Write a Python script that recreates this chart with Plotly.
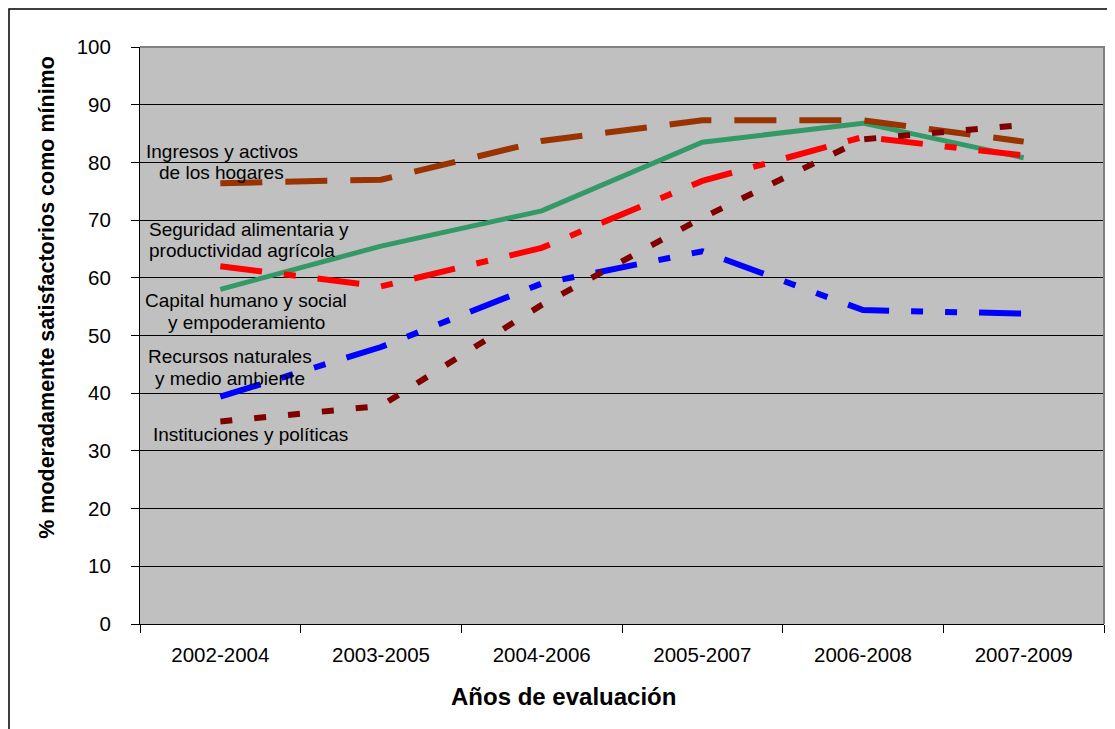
import plotly.graph_objects as go

# evaluation periods (x categories)
periods = ["2002-2004", "2003-2005", "2004-2006", "2005-2007", "2006-2008", "2007-2009"]

# % rated moderately satisfactory or better, per impact domain
ingresos = [76.4, 77.0, 83.7, 87.3, 87.3, 83.6]
seguridad = [62.0, 58.5, 65.2, 76.8, 84.4, 81.2]
capital = [58.0, 65.5, 71.6, 83.5, 86.8, 80.8]
recursos = [39.4, 48.0, 59.0, 64.6, 54.4, 53.8]
instituciones = [35.1, 37.8, 55.3, 70.4, 84.0, 86.5]

FONT = "Liberation Sans, Arial, sans-serif"

fig = go.Figure()

# drawing order matters: the later series sit on top
series = [
    (capital, "#339966", "solid", 5),
    (ingresos, "#993300", "42px,23px", 6),
    (recursos, "#0000FF", "42px,22px,12px,22px,12px,22px", 6),
    (seguridad, "#FF0000", "42px,22px,12px,22px", 6),
    (instituciones, "#800000", "12px,22px", 6),
]
for values, color, dash, width in series:
    fig.add_trace(
        go.Scatter(
            x=periods,
            y=values,
            mode="lines",
            line=dict(color=color, dash=dash, width=width),
            showlegend=False,
            hoverinfo="skip",
        )
    )

# series labels inside the plot, one annotation per text line
labels = [
    ("Ingresos y activos", 0.085, 81.9, "center"),
    ("de los hogares", 0.085, 78.3, "center"),
    ("Seguridad alimentaria y", 0.0073, 68.4, "left"),
    ("productividad agrícola", 0.0073, 64.7, "left"),
    ("Capital humano y social", 0.110, 56.0, "center"),
    ("y empoderamiento", 0.110, 52.3, "center"),
    ("Recursos naturales", 0.0934, 46.3, "center"),
    ("y medio ambiente", 0.0934, 42.6, "center"),
    ("Instituciones y políticas", 0.0114, 32.9, "left"),
]
for text, x, y, anchor in labels:
    fig.add_annotation(
        text=text, x=x, y=y, xref="paper", yref="y",
        xanchor=anchor, yanchor="middle", showarrow=False,
        font=dict(family=FONT, size=19, color="black"),
    )

# axis titles placed by hand (not centred on the plot in the original)
fig.add_annotation(
    text="<b>Años de evaluación</b>", x=0.439, y=-0.1265, xref="paper", yref="paper",
    xanchor="center", yanchor="middle", showarrow=False,
    font=dict(family=FONT, size=24, color="black"),
)
fig.add_annotation(
    text="<b>% moderadamente satisfactorios como mínimo</b>", x=-0.0965, y=0.567,
    xref="paper", yref="paper", textangle=-90,
    xanchor="center", yanchor="middle", showarrow=False,
    font=dict(family=FONT, size=21.5, color="black"),
)

# outer frame and the grey top/right edges of the plot area
fig.add_shape(
    type="rect", xref="paper", yref="paper",
    x0=-0.1359, x1=1.03, y0=-0.25, y1=1.0659,
    line=dict(color="black", width=1.5), layer="below",
)
fig.add_shape(
    type="path", xref="paper", yref="paper",
    path="M 0,1 L 1,1 L 1,0",
    line=dict(color="#808080", width=2), layer="above",
)

fig.update_layout(
    width=1107,
    height=721,
    margin=dict(l=132, r=11, t=39, b=105),
    paper_bgcolor="white",
    plot_bgcolor="#C0C0C0",
    font=dict(family=FONT, color="black"),
)
fig.update_xaxes(
    type="category",
    tickson="boundaries",
    ticks="outside",
    ticklen=8,
    tickcolor="black",
    showline=True,
    linecolor="black",
    linewidth=1,
    showgrid=False,
    ticklabelstandoff=12,
    tickfont=dict(family=FONT, size=20.5, color="black"),
    range=[-0.5, 5.5],
)
fig.update_yaxes(
    range=[0, 100],
    dtick=10,
    ticks="outside",
    ticklen=8,
    tickcolor="black",
    showline=True,
    linecolor="black",
    linewidth=1,
    showgrid=True,
    gridcolor="black",
    gridwidth=1,
    zeroline=False,
    ticklabelstandoff=16,
    tickfont=dict(family=FONT, size=20.5, color="black"),
)

fig.write_html("out.html")
